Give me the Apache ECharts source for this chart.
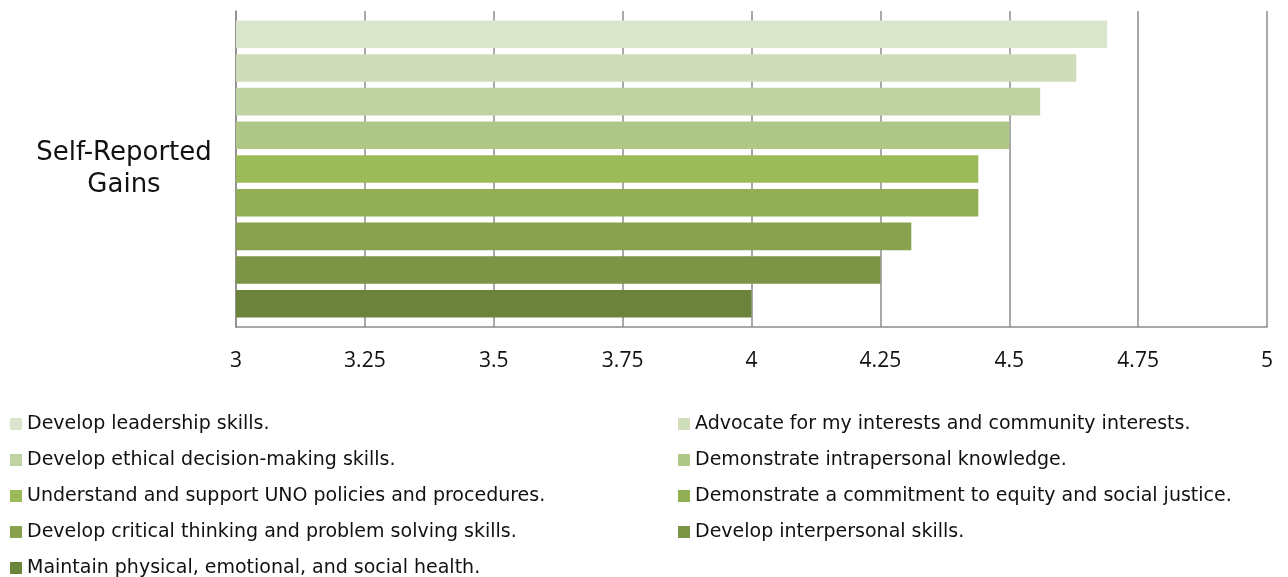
<!DOCTYPE html>
<html>
<head>
<meta charset="utf-8">
<script src="https://cdn.jsdelivr.net/npm/echarts@6/dist/echarts.min.js"></script>
<style>
  html, body { margin: 0; padding: 0; background: #fff; }
  #main { width: 1288px; height: 577px; }
</style>
</head>
<body>
<div id="main"></div>
<script>
// chart data
const categories = ['Self-Reported Gains'];
const seriesNames = [
  'Develop leadership skills.',
  'Advocate for my interests and community interests.',
  'Develop ethical decision-making skills.',
  'Demonstrate intrapersonal knowledge.',
  'Understand and support UNO policies and procedures.',
  'Demonstrate a commitment to equity and social justice.',
  'Develop critical thinking and problem solving skills.',
  'Develop interpersonal skills.',
  'Maintain physical, emotional, and social health.'
];
const seriesValues = [4.69, 4.63, 4.56, 4.50, 4.44, 4.44, 4.31, 4.25, 4.00];
const colors = ['#dae5cb', '#cfddba', '#c0d4a3', '#afc887', '#9bbb59', '#92af55', '#87a14d', '#7b9445', '#6c833c'];

const chart = echarts.init(document.getElementById('main'));

const legendText = { fontFamily: 'DejaVu Sans', fontSize: 19, color: '#111', lineHeight: 22 };

const option = {
  animation: false,
  color: colors,
  grid: { left: 236, right: 21, top: 11, bottom: 250, containLabel: false },
  xAxis: {
    type: 'value',
    min: 3,
    max: 5,
    interval: 0.25,
    axisLine: { show: true, lineStyle: { color: '#8c8c8c', width: 1.5 } },
    axisTick: { show: false },
    splitLine: { show: true, lineStyle: { color: '#8c8c8c', width: 1.5 } },
    axisLabel: { fontFamily: 'Open Sans', fontSize: 21, color: '#111', margin: 24 }
  },
  yAxis: {
    type: 'category',
    data: categories,
    inverse: true,
    axisLine: { show: true, lineStyle: { color: '#8c8c8c', width: 1.5 } },
    axisTick: { show: false },
    axisLabel: {
      fontFamily: 'DejaVu Sans', fontSize: 26, color: '#111',
      align: 'center', margin: 112, lineHeight: 32,
      formatter: v => v.replace(' ', '\n')
    }
  },
  legend: [
    {
      orient: 'vertical', left: 10, top: 413, height: 200, padding: 0,
      itemWidth: 12, itemHeight: 12, itemGap: 14,
      icon: 'rect', textStyle: legendText,
      data: seriesNames.filter((n, i) => i % 2 === 0)
    },
    {
      orient: 'vertical', left: 678, top: 413, height: 200, padding: 0,
      itemWidth: 12, itemHeight: 12, itemGap: 14,
      icon: 'rect', textStyle: legendText,
      data: seriesNames.filter((n, i) => i % 2 === 1)
    }
  ],
  series: seriesNames.map((name, i) => ({
    name: name,
    type: 'bar',
    data: [seriesValues[i]],
    barGap: '22%',
    barCategoryGap: '6%',
    itemStyle: { color: colors[i] }
  }))
};

chart.setOption(option);
</script>
</body>
</html>
